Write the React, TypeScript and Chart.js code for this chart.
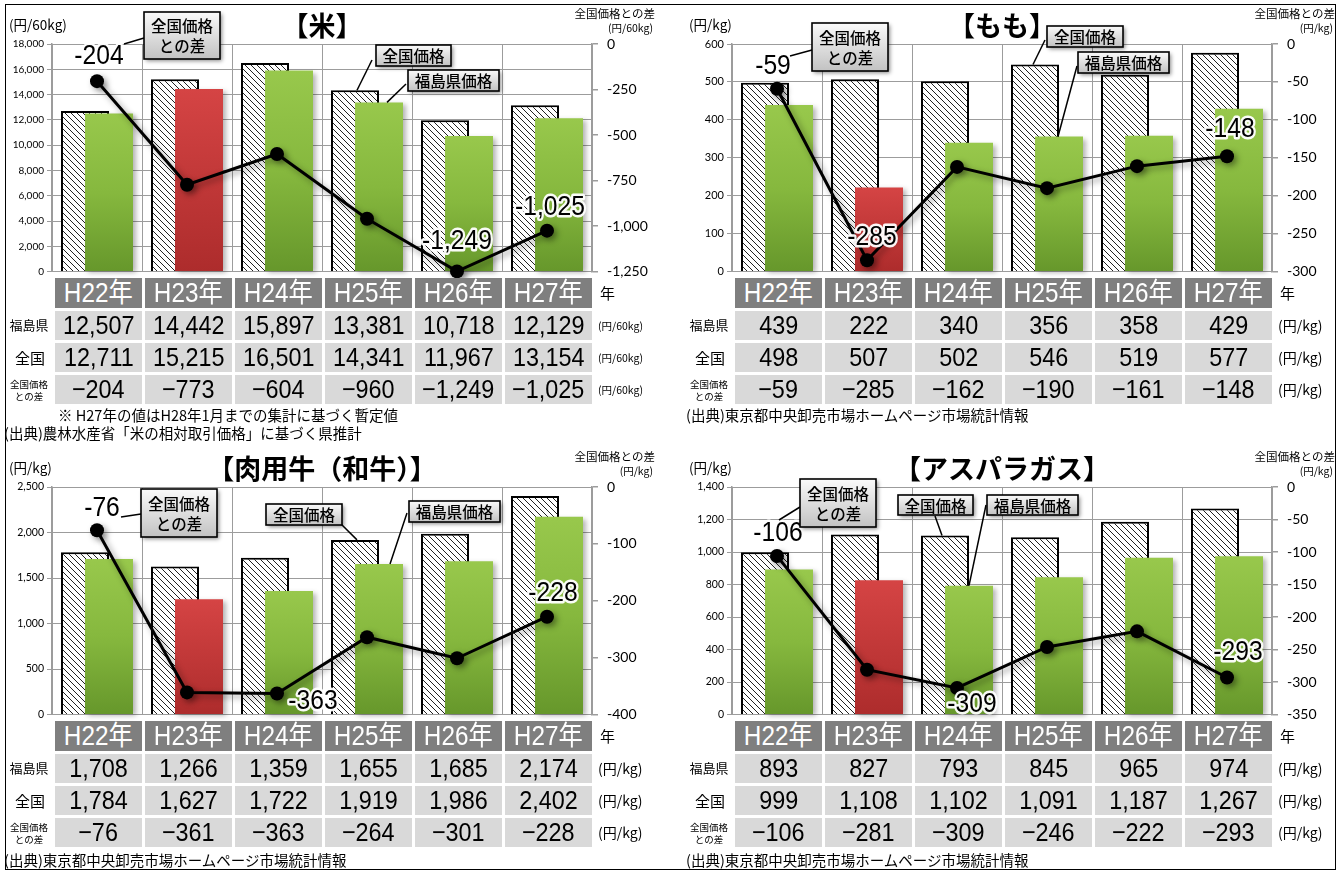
import React, { useEffect, useRef } from "react";
import { Chart, registerables } from "chart.js";

Chart.register(...registerables);

// ---------- data ----------
const years = ["H22年", "H23年", "H24年", "H25年", "H26年", "H27年"];
const highlightYear = "H23年";

// 米 (円/60kg)
const riceFukushima = [12507, 14442, 15897, 13381, 10718, 12129];
const riceNational = [12711, 15215, 16501, 14341, 11967, 13154];
const riceDiff = [-204, -773, -604, -960, -1249, -1025];
const riceLeftAxis = { min: 0, max: 18000, step: 2000 };
const riceRightAxis = { min: -1250, max: 0, step: 250 };

// もも (円/kg)
const peachFukushima = [439, 222, 340, 356, 358, 429];
const peachNational = [498, 507, 502, 546, 519, 577];
const peachDiff = [-59, -285, -162, -190, -161, -148];
const peachLeftAxis = { min: 0, max: 600, step: 100 };
const peachRightAxis = { min: -300, max: 0, step: 50 };

// 肉用牛(和牛) (円/kg)
const beefFukushima = [1708, 1266, 1359, 1655, 1685, 2174];
const beefNational = [1784, 1627, 1722, 1919, 1986, 2402];
const beefDiff = [-76, -361, -363, -264, -301, -228];
const beefLeftAxis = { min: 0, max: 2500, step: 500 };
const beefRightAxis = { min: -400, max: 0, step: 100 };

// アスパラガス (円/kg)
const asparaFukushima = [893, 827, 793, 845, 965, 974];
const asparaNational = [999, 1108, 1102, 1091, 1187, 1267];
const asparaDiff = [-106, -281, -309, -246, -222, -293];
const asparaLeftAxis = { min: 0, max: 1400, step: 200 };
const asparaRightAxis = { min: -350, max: 0, step: 50 };

// ---------- styles ----------
const FONT_NUM = "'Liberation Sans', Arial, 'Noto Sans CJK JP', sans-serif";
const FONT_JP = "'Noto Sans CJK JP', 'Noto Sans', sans-serif";
const FONT_TICK = "Lato, 'Noto Sans', sans-serif";
const GRID = "#9c9c9c";

const PLOT_LEFT = 52;
const COL_W = 90;
const CANVAS_W = 660;
const CANVAS_H = 289;

type Callout = {
  lines: string[];
  box: [number, number, number, number];
  from: [number, number];
  to: [number, number] | { ds: number; index: number; dx?: number; dy?: number };
};
type LabelPos = { index: number; dx: number; dy: number };

type PanelCfg = {
  title: string;
  unit: string;
  fukushima: number[];
  national: number[];
  diff: number[];
  left: { min: number; max: number; step: number };
  right: { min: number; max: number; step: number };
  leftTickSize: number;
  labels: LabelPos[];
  callouts: Callout[];
  notes: { text: string; x: number; y: number }[];
  ox: number;
  oy: number;
};

const fmt = (v: number) => v.toLocaleString("en-US");
const fmtTable = (v: number) => fmt(v).replace("-", "−");

function makeHatch(): CanvasPattern | string {
  const c = document.createElement("canvas");
  c.width = 6;
  c.height = 6;
  const g = c.getContext("2d");
  if (!g) return "#fff";
  g.fillStyle = "#fff";
  g.fillRect(0, 0, 6, 6);
  g.strokeStyle = "#222";
  g.lineWidth = 1;
  g.beginPath();
  g.moveTo(-1, -1);
  g.lineTo(7, 7);
  g.moveTo(-1, 5);
  g.lineTo(1, 7);
  g.moveTo(5, -1);
  g.lineTo(7, 1);
  g.stroke();
  return g.createPattern(c, "repeat") || "#fff";
}

function setShadow(ctx: CanvasRenderingContext2D, kind: "bar" | "line") {
  if (kind === "bar") {
    ctx.shadowColor = "rgba(0,0,0,0.30)";
    ctx.shadowBlur = 5;
    ctx.shadowOffsetX = 3;
    ctx.shadowOffsetY = 2;
  } else {
    ctx.shadowColor = "rgba(0,0,0,0.40)";
    ctx.shadowBlur = 6;
    ctx.shadowOffsetX = 3;
    ctx.shadowOffsetY = 3;
  }
}

const reorderPlugin = {
  id: "reorder",
  beforeDatasetDraw(chart: any, args: any) {
    if (args.index === 2) return false;
    chart.ctx.save();
    setShadow(chart.ctx, args.index === 0 ? "line" : "bar");
    return true;
  },
  afterDatasetDraw(chart: any, args: any) {
    const ctx = chart.ctx;
    ctx.restore();
    if (args.index === 1) {
      const meta = chart.getDatasetMeta(2);
      ctx.save();
      setShadow(ctx, "bar");
      meta.controller.draw();
      ctx.restore();
    }
  },
};

function overlayPlugin(cfg: PanelCfg) {
  return {
    id: "overlay",
    afterDatasetsDraw(chart: any) {
      const ctx: CanvasRenderingContext2D = chart.ctx;
      const lineMeta = chart.getDatasetMeta(0);
      cfg.labels.forEach((l) => {
        const p = lineMeta.data[l.index];
        if (!p) return;
        const txt = fmt(cfg.diff[l.index]);
        ctx.save();
        ctx.translate(p.x + l.dx, p.y + l.dy);
        ctx.scale(0.88, 1);
        ctx.font = `28px ${FONT_NUM}`;
        ctx.textAlign = "center";
        ctx.textBaseline = "middle";
        ctx.lineJoin = "round";
        ctx.strokeStyle = "rgba(255,255,255,0.95)";
        ctx.lineWidth = 5;
        ctx.strokeText(txt, 0, 0);
        ctx.fillStyle = "#000";
        ctx.fillText(txt, 0, 0);
        ctx.restore();
      });
      cfg.callouts.forEach((c) => {
        let tx: number, ty: number;
        if (Array.isArray(c.to)) {
          tx = c.to[0];
          ty = c.to[1];
        } else {
          const el = chart.getDatasetMeta(c.to.ds).data[c.to.index];
          tx = el.x + (c.to.dx || 0);
          ty = el.y + (c.to.dy || 0);
        }
        ctx.save();
        ctx.strokeStyle = "#000";
        ctx.lineWidth = 1.5;
        ctx.beginPath();
        ctx.moveTo(c.from[0], c.from[1]);
        ctx.lineTo(tx, ty);
        ctx.stroke();
        const [bx, by, bw, bh] = c.box;
        ctx.shadowColor = "rgba(0,0,0,0.45)";
        ctx.shadowBlur = 4;
        ctx.shadowOffsetX = 2;
        ctx.shadowOffsetY = 2;
        const g = ctx.createLinearGradient(0, by, 0, by + bh);
        g.addColorStop(0, "#fafafa");
        g.addColorStop(1, "#c2c2c2");
        ctx.fillStyle = g;
        ctx.fillRect(bx, by, bw, bh);
        ctx.shadowColor = "transparent";
        ctx.lineWidth = 1.6;
        ctx.strokeRect(bx, by, bw, bh);
        ctx.fillStyle = "#000";
        ctx.font = `500 15.5px ${FONT_JP}`;
        ctx.textAlign = "center";
        ctx.textBaseline = "middle";
        const lh = 20;
        const startY = by + bh / 2 - ((c.lines.length - 1) * lh) / 2;
        c.lines.forEach((t, i) => ctx.fillText(t, bx + bw / 2, startY + i * lh + 1));
        ctx.restore();
      });
    },
  };
}

function buildConfig(cfg: PanelCfg): any {
  const hatch = makeHatch();
  const fill = (c: any) => {
    const isRed = years[c.dataIndex] === highlightYear;
    const chart = c.chart;
    const area = chart.chartArea;
    if (c.type !== "data" || !area || c.raw == null) return isRed ? "#c83b3b" : "#8dbf43";
    const top = chart.scales.y.getPixelForValue(c.raw);
    const g = chart.ctx.createLinearGradient(0, top, 0, area.bottom);
    if (isRed) {
      g.addColorStop(0, "#d54444");
      g.addColorStop(1, "#ad2c2c");
    } else {
      g.addColorStop(0, "#98c84c");
      g.addColorStop(0.5, "#86b83e");
      g.addColorStop(1, "#66972b");
    }
    return g;
  };
  return {
    data: {
      labels: years,
      datasets: [
        {
          type: "line",
          label: "全国価格との差",
          data: cfg.diff,
          yAxisID: "y1",
          order: 0,
          borderColor: "#000",
          borderWidth: 3,
          pointRadius: 7,
          pointHoverRadius: 7,
          pointBackgroundColor: "#000",
          pointBorderColor: "#000",
          pointBorderWidth: 0,
          tension: 0,
          clip: false,
        },
        {
          type: "bar",
          label: "全国価格",
          data: cfg.national,
          yAxisID: "y",
          order: 1,
          backgroundColor: hatch,
          borderColor: "#000",
          borderWidth: 2,
          borderSkipped: "bottom",
          categoryPercentage: 48 / 90,
          barPercentage: 2,
        },
        {
          type: "bar",
          label: "福島県価格",
          data: cfg.fukushima,
          yAxisID: "y",
          order: 2,
          backgroundColor: fill,
          borderWidth: 0,
          categoryPercentage: 48 / 90,
          barPercentage: 2,
        },
      ],
    },
    options: {
      responsive: false,
      animation: false,
      events: [],
      layout: { autoPadding: false, padding: { top: 44, bottom: 6, left: 0, right: 0 } },
      plugins: { legend: { display: false }, tooltip: { enabled: false } },
      scales: {
        x: {
          type: "category",
          offset: true,
          ticks: { display: false },
          grid: { color: GRID, lineWidth: 1, drawTicks: false, offset: true },
          border: { display: false },
          afterFit: (s: any) => {
            s.height = 0;
          },
        },
        y: {
          type: "linear",
          position: "left",
          min: cfg.left.min,
          max: cfg.left.max,
          ticks: {
            stepSize: cfg.left.step,
            color: "#000",
            padding: 3,
            font: { family: FONT_TICK, size: cfg.leftTickSize },
            callback: (v: any) => fmt(Number(v)),
          },
          grid: { color: GRID, lineWidth: 1, tickLength: 5 },
          border: { color: GRID, width: 1.5 },
          afterFit: (s: any) => {
            s.width = PLOT_LEFT;
          },
        },
        y1: {
          type: "linear",
          position: "right",
          min: cfg.right.min,
          max: cfg.right.max,
          ticks: {
            stepSize: cfg.right.step,
            color: "#000",
            padding: 9,
            font: { family: FONT_TICK, size: 14 },
            callback: (v: any) => fmt(Number(v)),
          },
          grid: { drawOnChartArea: false, color: GRID, lineWidth: 1.5, tickLength: 6 },
          border: { color: GRID, width: 1.5 },
          afterFit: (s: any) => {
            s.width = CANVAS_W - PLOT_LEFT - COL_W * 6;
          },
        },
      },
    },
    plugins: [reorderPlugin, overlayPlugin(cfg)],
  };
}

// ---------- panel configs ----------
const panels: PanelCfg[] = [
  {
    title: "【米】",
    unit: "(円/60kg)",
    fukushima: riceFukushima,
    national: riceNational,
    diff: riceDiff,
    left: riceLeftAxis,
    right: riceRightAxis,
    leftTickSize: 10,
    labels: [
      { index: 0, dx: 2, dy: -25 },
      { index: 4, dx: 0, dy: -30 },
      { index: 5, dx: 3, dy: -23 },
    ],
    callouts: [
      { lines: ["全国価格", "との差"], box: [144, 12, 76, 47], from: [144, 38], to: [124, 44] },
      { lines: ["全国価格"], box: [376, 45, 75, 21], from: [372, 60], to: { ds: 1, index: 3, dx: 2 } },
      { lines: ["福島県価格"], box: [408, 70, 91, 21], from: [406, 84], to: { ds: 2, index: 3, dx: 8 } },
    ],
    notes: [
      { text: "※ H27年の値はH28年1月までの集計に基づく暫定値", x: 58, y: 415 },
      { text: "(出典)農林水産省「米の相対取引価格」に基づく県推計", x: 4, y: 433 },
    ],
    ox: 0,
    oy: 0,
  },
  {
    title: "【もも】",
    unit: "(円/kg)",
    fukushima: peachFukushima,
    national: peachNational,
    diff: peachDiff,
    left: peachLeftAxis,
    right: peachRightAxis,
    leftTickSize: 11,
    labels: [
      { index: 0, dx: -4, dy: -22 },
      { index: 1, dx: 5, dy: -23 },
      { index: 5, dx: 3, dy: -27 },
    ],
    callouts: [
      { lines: ["全国価格", "との差"], box: [132, 23, 76, 48], from: [132, 50], to: [110, 56] },
      { lines: ["全国価格"], box: [367, 26, 76, 21], from: [365, 40], to: { ds: 1, index: 3, dx: -2 } },
      { lines: ["福島県価格"], box: [398, 52, 91, 21], from: [397, 66], to: { ds: 2, index: 3, dx: -1 } },
    ],
    notes: [{ text: "(出典)東京都中央卸売市場ホームページ市場統計情報", x: 6, y: 415 }],
    ox: 680,
    oy: 0,
  },
  {
    title: "【肉用牛（和牛）】",
    unit: "(円/kg)",
    fukushima: beefFukushima,
    national: beefNational,
    diff: beefDiff,
    left: beefLeftAxis,
    right: beefRightAxis,
    leftTickSize: 10.5,
    labels: [
      { index: 0, dx: 5, dy: -22 },
      { index: 2, dx: 36, dy: 8 },
      { index: 5, dx: 6, dy: -23 },
    ],
    callouts: [
      { lines: ["全国価格", "との差"], box: [141, 46, 76, 48], from: [141, 71], to: [121, 74] },
      { lines: ["全国価格"], box: [266, 61, 76, 21], from: [340, 80], to: { ds: 1, index: 3, dx: 2 } },
      { lines: ["福島県価格"], box: [409, 58, 91, 21], from: [407, 70], to: { ds: 2, index: 3, dx: 11 } },
    ],
    notes: [{ text: "(出典)東京都中央卸売市場ホームページ市場統計情報", x: 4, y: 417 }],
    ox: 0,
    oy: 443,
  },
  {
    title: "【アスパラガス】",
    unit: "(円/kg)",
    fukushima: asparaFukushima,
    national: asparaNational,
    diff: asparaDiff,
    left: asparaLeftAxis,
    right: asparaRightAxis,
    leftTickSize: 10.5,
    labels: [
      { index: 0, dx: 1, dy: -23 },
      { index: 2, dx: 15, dy: 16 },
      { index: 5, dx: 11, dy: -25 },
    ],
    callouts: [
      { lines: ["全国価格", "との差"], box: [120, 36, 76, 48], from: [120, 64], to: [99, 77] },
      { lines: ["全国価格"], box: [218, 52, 75, 20], from: [255, 73], to: { ds: 1, index: 2, dx: -3 } },
      { lines: ["福島県価格"], box: [307, 52, 91, 20], from: [306, 62], to: { ds: 2, index: 2, dx: 0 } },
    ],
    notes: [{ text: "(出典)東京都中央卸売市場ホームページ市場統計情報", x: 6, y: 417 }],
    ox: 680,
    oy: 443,
  },
];

// ---------- components ----------
function Txt(props: {
  x: number;
  y: number;
  align?: "left" | "center" | "right";
  size: number;
  family?: string;
  weight?: number | string;
  color?: string;
  children: React.ReactNode;
}) {
  const align = props.align || "left";
  const tx = align === "left" ? "0" : align === "center" ? "-50%" : "-100%";
  return (
    <div
      style={{
        position: "absolute",
        left: props.x,
        top: props.y,
        transform: `translate(${tx}, -50%)`,
        fontSize: props.size,
        fontFamily: props.family || FONT_JP,
        fontWeight: props.weight || 400,
        color: props.color || "#000",
        whiteSpace: "nowrap",
        lineHeight: 1.1,
        textAlign: align,
      }}
    >
      {props.children}
    </div>
  );
}

const ROW_TOPS = [278, 311, 343, 375];
const ROW_H = [30, 29, 29, 29];

function Cell(props: { left: number; top: number; h: number; bg: string; color: string; size: number; sx: number; text: string }) {
  return (
    <div
      style={{
        position: "absolute",
        left: props.left,
        top: props.top,
        width: COL_W - 3,
        height: props.h,
        background: props.bg,
        color: props.color,
        fontFamily: FONT_NUM,
        fontSize: props.size,
        lineHeight: `${props.h}px`,
        textAlign: "center",
        overflow: "hidden",
        whiteSpace: "nowrap",
      }}
    >
      <span style={{ display: "inline-block", transform: `scaleX(${props.sx})` }}>{props.text}</span>
    </div>
  );
}

function Panel({ cfg }: { cfg: PanelCfg }) {
  const ref = useRef<HTMLCanvasElement>(null);
  useEffect(() => {
    const canvas = ref.current;
    if (!canvas) return;
    const chart = new Chart(canvas, buildConfig(cfg));
    return () => chart.destroy();
  }, [cfg]);

  const rows = [cfg.fukushima, cfg.national, cfg.diff];
  const cellLeft = (i: number) => PLOT_LEFT + i * COL_W + 3;
  const unitSize = cfg.unit === "(円/60kg)" ? 10.5 : 14;

  return (
    <div style={{ position: "absolute", left: cfg.ox, top: cfg.oy, width: 663, height: 440 }}>
      <canvas
        ref={ref}
        width={CANVAS_W}
        height={CANVAS_H}
        style={{ position: "absolute", left: 0, top: 0, width: CANVAS_W, height: CANVAS_H }}
      />
      <Txt x={9} y={24} size={13.5}>{cfg.unit}</Txt>
      <Txt x={322} y={25} size={27} align="center" weight={700}>{cfg.title}</Txt>
      <Txt x={655} y={13} size={11.5} align="right">全国価格との差</Txt>
      <Txt x={653} y={28} size={10.5} align="right">{cfg.unit}</Txt>

      {years.map((y, i) => (
        <Cell key={y} left={cellLeft(i)} top={ROW_TOPS[0]} h={ROW_H[0]} bg="#7f7f7f" color="#fff" size={27} sx={0.9} text={y} />
      ))}
      <Txt x={600} y={ROW_TOPS[0] + 15} size={15}>年</Txt>

      {rows.map((vals, r) =>
        vals.map((v, i) => (
          <Cell
            key={`${r}-${i}`}
            left={cellLeft(i)}
            top={ROW_TOPS[r + 1]}
            h={ROW_H[r + 1]}
            bg="#d9d9d9"
            color="#000"
            size={26}
            sx={0.9}
            text={fmtTable(v)}
          />
        ))
      )}
      <Txt x={29} y={ROW_TOPS[1] + 14} size={13} align="center">福島県</Txt>
      <Txt x={30} y={ROW_TOPS[2] + 15} size={15} align="center">全国</Txt>
      <div
        style={{
          position: "absolute",
          left: 29,
          top: ROW_TOPS[3] + 15,
          transform: "translate(-50%, -50%)",
          fontFamily: FONT_JP,
          fontSize: 9.5,
          lineHeight: "12px",
          textAlign: "center",
          whiteSpace: "nowrap",
        }}
      >
        全国価格
        <br />
        との差
      </div>
      {[1, 2, 3].map((r) => (
        <Txt key={r} x={598} y={ROW_TOPS[r] + 15} size={unitSize}>{cfg.unit}</Txt>
      ))}
      {cfg.notes.map((n, i) => (
        <Txt key={i} x={n.x} y={n.y} size={14.5}>{n.text}</Txt>
      ))}
    </div>
  );
}

export default function App() {
  return (
    <div
      style={{
        position: "relative",
        width: 1343,
        height: 873,
        overflow: "hidden",
        background: "#fff",
      }}
    >
      <style>{"body{margin:0;overflow:hidden;}"}</style>
      <div
        style={{
          position: "absolute",
          left: 5,
          top: 4,
          width: 1331,
          height: 866,
          border: "1px solid #000",
          boxSizing: "border-box",
        }}
      />
      {panels.map((p) => (
        <Panel key={p.title} cfg={p} />
      ))}
    </div>
  );
}
